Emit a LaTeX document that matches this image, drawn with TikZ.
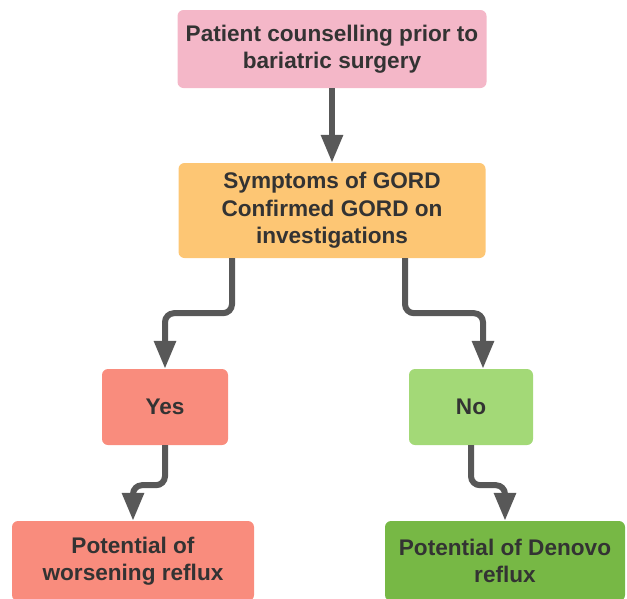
\documentclass[tikz,border=0pt]{standalone}
\usepackage{fontspec}
\setmainfont{Liberation Sans}
\usetikzlibrary{arrows.meta,calc}
\definecolor{txt}{HTML}{333333}
\definecolor{pinkbox}{HTML}{F4B7C8}
\definecolor{orangebox}{HTML}{FDC674}
\definecolor{salmonbox}{HTML}{F98C7D}
\definecolor{lgreenbox}{HTML}{A3D977}
\definecolor{dgreenbox}{HTML}{77B845}
\definecolor{conncol}{HTML}{585858}
\tikzset{
  box/.style={rounded corners=6pt, inner sep=0pt, align=center, text=txt,
    font=\fontsize{22.6}{27.5}\selectfont\bfseries},
  conn/.style={draw=conncol, line width=6pt, rounded corners=9pt,
    -{Triangle[length=28pt,width=21pt]}},
}
\begin{document}
\begin{tikzpicture}[x=1pt,y=-1pt]
\useasboundingbox (0,0) rectangle (627,598);
\node[box, fill=pinkbox, minimum width=309pt, minimum height=78pt] (top) at (332,49) {Patient counselling prior to\\bariatric surgery};
\node[box, fill=orangebox, minimum width=307pt, minimum height=95pt] (mid) at (332,210.5) {Symptoms of GORD\\Confirmed GORD on\\investigations};
\node[box, fill=salmonbox, minimum width=126pt, minimum height=76pt] (yes) at (165,407) {Yes};
\node[box, fill=lgreenbox, minimum width=124pt, minimum height=76pt] (no) at (471,407) {No};
\node[box, fill=salmonbox, minimum width=242pt, minimum height=80pt] (bl) at (133,561) {Potential of\\worsening reflux};
\node[box, fill=dgreenbox, minimum width=240pt, minimum height=80pt] (br) at (505,561) {Potential of Denovo\\reflux};
\coordinate (noin) at ($(no.north)+(12,0)$);
\draw[conn] (top.south) -- (mid.north);
\draw[conn] ($(mid.south)+(-100,0)$) -- ++(0,55) -| (yes.north);
\draw[conn] ($(mid.south)+(73,0)$) -- ++(0,55) -| (noin);
\draw[conn] (yes.south) -- ++(0,40) -| (bl.north);
\draw[conn] (no.south) -- ++(0,40) -| (br.north);
\end{tikzpicture}
\end{document}
